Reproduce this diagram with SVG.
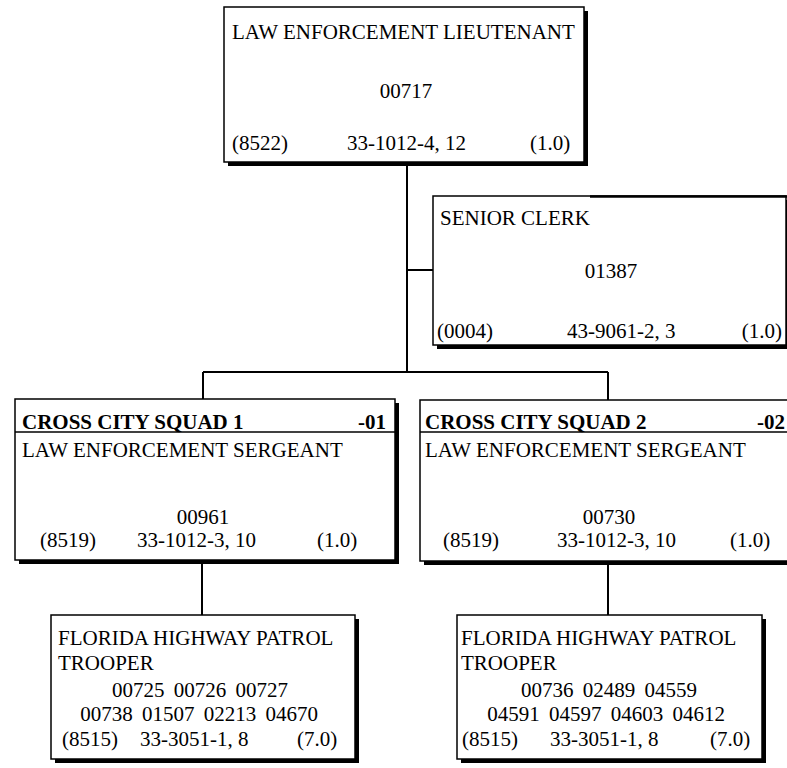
<svg xmlns="http://www.w3.org/2000/svg" width="787" height="768" viewBox="0 0 787 768">
<style>
text{font-family:"Liberation Serif","Times New Roman",serif;font-size:21px;fill:#000}
.b{font-weight:bold}
.m{text-anchor:middle}
.e{text-anchor:end}
.n{word-spacing:4px}
.box{fill:#fff;stroke:#000;stroke-width:1.5}
.sh{fill:#000}
.c{stroke:#000;stroke-width:2;fill:none}
</style>
<rect width="787" height="768" fill="#fff"/>
<g id="connectors">
<path class="c" d="M407 166V372M407 270H433M203 372H608M203 372V399M608 372V400M202 563V615M608 565V615"/>
</g>
<g id="lieutenant">
<rect class="sh" x="228" y="11" width="360" height="155"/>
<rect class="box" x="224" y="7" width="360" height="155"/>
<text x="232" y="39">LAW ENFORCEMENT LIEUTENANT</text>
<text class="m" x="406" y="98">00717</text>
<text x="232" y="150">(8522)</text>
<text x="347" y="150">33-1012-4, 12</text>
<text x="530" y="150">(1.0)</text>
</g>
<g id="senior-clerk">
<rect class="sh" x="437" y="200" width="353" height="149"/>
<rect class="box" x="433" y="196" width="353" height="149"/>
<line x1="590" y1="196.5" x2="787" y2="196.5" stroke="#000" stroke-width="2.5"/>
<text x="440" y="225">SENIOR CLERK</text>
<text class="m" x="611" y="278">01387</text>
<text x="437" y="338">(0004)</text>
<text x="567" y="338">43-9061-2, 3</text>
<text class="e" x="782" y="338">(1.0)</text>
</g>
<g id="squad1">
<rect class="sh" x="19" y="403" width="380" height="161"/>
<rect class="box" x="15" y="399" width="380" height="161"/>
<line x1="15" y1="432" x2="395" y2="432" stroke="#000" stroke-width="1.5"/>
<text class="b" x="22" y="429">CROSS CITY SQUAD 1</text>
<text class="b e" x="386" y="429">-01</text>
<text x="22" y="457">LAW ENFORCEMENT SERGEANT</text>
<text class="m" x="203" y="524">00961</text>
<text x="40" y="547">(8519)</text>
<text x="137" y="547">33-1012-3, 10</text>
<text x="317" y="547">(1.0)</text>
</g>
<g id="squad2">
<rect class="sh" x="424" y="404" width="380" height="161"/>
<rect class="box" x="420" y="400" width="380" height="161"/>
<line x1="420" y1="432" x2="800" y2="432" stroke="#000" stroke-width="1.5"/>
<text class="b" x="425" y="429">CROSS CITY SQUAD 2</text>
<text class="b e" x="785" y="429">-02</text>
<text x="425" y="457">LAW ENFORCEMENT SERGEANT</text>
<text class="m" x="609" y="524">00730</text>
<text x="443" y="547">(8519)</text>
<text x="557" y="547">33-1012-3, 10</text>
<text x="730" y="547">(1.0)</text>
</g>
<g id="trooper1">
<rect class="sh" x="55" y="619" width="304" height="144"/>
<rect class="box" x="51" y="615" width="304" height="144"/>
<text x="58" y="645">FLORIDA HIGHWAY PATROL</text>
<text x="58" y="670">TROOPER</text>
<text class="m n" x="200" y="697">00725 00726 00727</text>
<text class="m n" x="199" y="721">00738 01507 02213 04670</text>
<text x="62" y="746">(8515)</text>
<text x="140" y="746">33-3051-1, 8</text>
<text x="297" y="746">(7.0)</text>
</g>
<g id="trooper2">
<rect class="sh" x="461" y="619" width="305" height="144"/>
<rect class="box" x="457" y="615" width="305" height="144"/>
<text x="461" y="645">FLORIDA HIGHWAY PATROL</text>
<text x="461" y="670">TROOPER</text>
<text class="m n" x="609" y="697">00736 02489 04559</text>
<text class="m n" x="606" y="721">04591 04597 04603 04612</text>
<text x="462" y="746">(8515)</text>
<text x="550" y="746">33-3051-1, 8</text>
<text x="710" y="746">(7.0)</text>
</g>
</svg>
